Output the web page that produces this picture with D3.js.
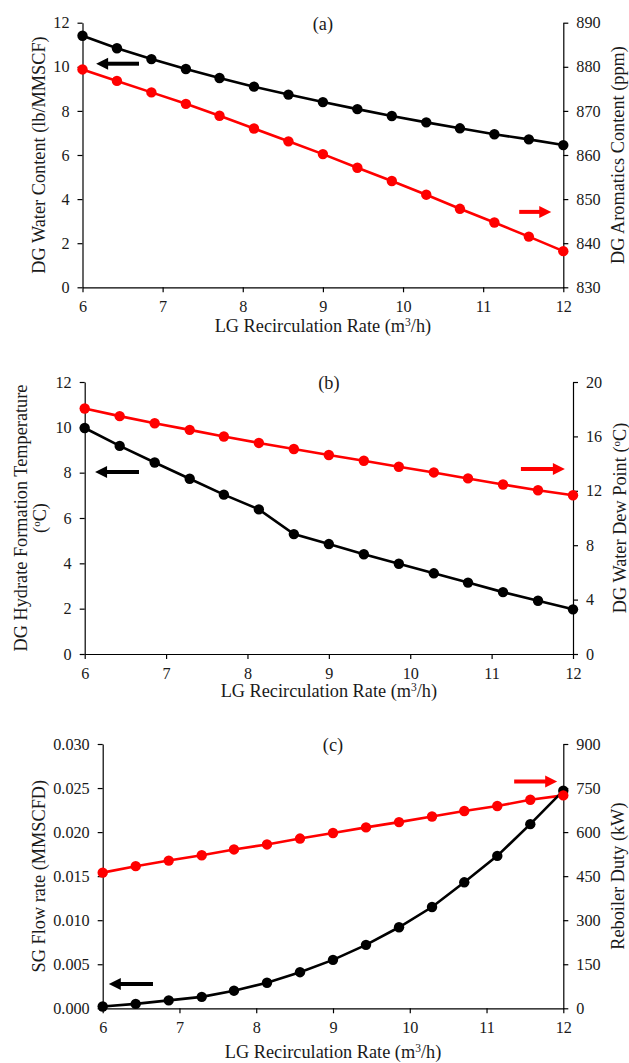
<!DOCTYPE html>
<html><head><meta charset="utf-8">
<script src="https://cdn.jsdelivr.net/npm/d3@7"></script>
<style>
body{margin:0;background:#fff;}
svg{display:block;font-family:"Liberation Serif","Times New Roman",serif;}
.tick text{font-size:16.2px;fill:#1a1a1a;}
.tick line,.domain{stroke:#000;stroke-width:1.2;}
</style></head>
<body>
<svg id="c" width="629" height="1063"></svg>
<script>
// shared x values (LG recirculation rate, m3/h)
const lgRate = [6,6.43,6.86,7.29,7.71,8.14,8.57,9,9.43,9.86,10.29,10.71,11.14,11.57,12];
const xTicks = [6,7,8,9,10,11,12];

// (a)
const waterContent = [11.41,10.84,10.35,9.90,9.49,9.10,8.74,8.40,8.08,7.77,7.48,7.21,6.94,6.71,6.45];
const aromatics = [879.4,876.8,874.2,871.6,868.9,866.0,863.1,860.2,857.1,854.1,851.0,847.8,844.7,841.5,838.2];
const aLeftTicks = [0,2,4,6,8,10,12];
const aRightTicks = [830,840,850,860,870,880,890];

// (b)
const hydrateTemp = [9.97,9.18,8.45,7.73,7.03,6.38,5.29,4.85,4.40,3.98,3.56,3.15,2.73,2.35,1.97];
const dewPoint = [18.05,17.49,16.97,16.48,15.99,15.52,15.07,14.63,14.21,13.77,13.35,12.91,12.46,12.04,11.67];
const bLeftTicks = [0,2,4,6,8,10,12];
const bRightTicks = [0,4,8,12,16,20];

// (c)
const sgFlow = [0.0002,0.0005,0.0009,0.0013,0.0020,0.0029,0.0041,0.0055,0.0072,0.0092,0.0115,0.0143,0.0173,0.0209,0.0247];
const reboilerDuty = [462,484,503,521,541,558,578,597,616,634,653,672,689,710,725];
const cLeftTicks = [0,0.005,0.010,0.015,0.020,0.025,0.030];
const cRightTicks = [0,150,300,450,600,750,900];

const svg = d3.select("#c");
const TF = "18.3px";

const panels = [
  {label:"(a)", x0:82.5, x1:563.3, y0:22.7, y1:287.3, xtOff:45,
   left:waterContent, right:aromatics, lDom:[0,12], rDom:[830,890],
   lTicks:aLeftTicks, rTicks:aRightTicks, lFmt:d3.format("d"), rFmt:d3.format("d"),
   lTitle:["DG Water Content (lb/MMSCF)"], lTitleX:[45], rTitle:"DG Aromatics Content (ppm)", rTitleX:624,
   arrows:[{side:"l", from:6.705, to:6.17, y:10.14, color:"#000"},
           {side:"r", from:11.45, to:11.85, y:847.1, color:"#ff0000"}]},
  {label:"(b)", x0:84.7, x1:573, y0:382, y1:654, xtOff:43,
   left:hydrateTemp, right:dewPoint, lDom:[0,12], rDom:[0,20],
   lTicks:bLeftTicks, rTicks:bRightTicks, lFmt:d3.format("d"), rFmt:d3.format("d"),
   lTitle:["DG Hydrate Formation Temperature","(oC)"], lTitleX:[27,46], rTitle:"DG Water Dew Point (oC)", rTitleX:626,
   arrows:[{side:"l", from:6.667, to:6.127, y:8.03, color:"#000"},
           {side:"r", from:11.36, to:11.90, y:13.6, color:"#ff0000"}]},
  {label:"(c)", x0:102.7, x1:563.3, y0:744, y1:1008.3, xtOff:50,
   left:sgFlow, right:reboilerDuty, lDom:[0,0.030], rDom:[0,900],
   lTicks:cLeftTicks, rTicks:cRightTicks, lFmt:d3.format(".3f"), rFmt:d3.format("d"),
   lTitle:["SG Flow rate (MMSCFD)"], lTitleX:[45], rTitle:"Reboiler Duty (kW)", rTitleX:624,
   arrows:[{side:"l", from:6.655, to:6.08, y:0.00276, color:"#000"},
           {side:"r", from:11.36, to:11.92, y:772, color:"#ff0000"}]}
];

function addTitleText(sel, str){
  const idx = str.indexOf("(oC)");
  if(idx<0){ sel.text(str); return; }
  sel.append("tspan").text(str.slice(0, idx+1));
  sel.append("tspan").attr("baseline-shift","super").attr("font-size","11px").text("o");
  sel.append("tspan").text("C)");
}

panels.forEach(p=>{
  const x = d3.scaleLinear().domain([6,12]).range([p.x0,p.x1]);
  const yl = d3.scaleLinear().domain(p.lDom).range([p.y1,p.y0]);
  const yr = d3.scaleLinear().domain(p.rDom).range([p.y1,p.y0]);
  const g = svg.append("g");

  g.append("g").attr("transform",`translate(0,${p.y1})`)
    .call(d3.axisBottom(x).tickValues(xTicks).tickSize(5).tickPadding(8).tickSizeOuter(0).tickFormat(d3.format("d")));
  g.append("g").attr("transform",`translate(${p.x0},0)`)
    .call(d3.axisLeft(yl).tickValues(p.lTicks).tickSize(5).tickPadding(8).tickSizeOuter(0).tickFormat(p.lFmt));
  g.append("g").attr("transform",`translate(${p.x1},0)`)
    .call(d3.axisRight(yr).tickValues(p.rTicks).tickSize(5).tickPadding(8).tickSizeOuter(0).tickFormat(p.rFmt));
  g.selectAll(".tick text").attr("font-family","Liberation Serif");

  const series = [
    {vals:p.right, y:yr, color:"#ff0000"},
    {vals:p.left, y:yl, color:"#000"}
  ];
  series.forEach(s=>{
    const line = d3.line().x((d,i)=>x(lgRate[i])).y(d=>s.y(d));
    g.append("path").datum(s.vals).attr("d",line).attr("fill","none")
      .attr("stroke",s.color).attr("stroke-width",2.6);
  });
  const order = p.label==="(c)" ? [series[1],series[0]] : series;
  order.forEach(s=>{
    g.append("g").selectAll("circle").data(s.vals).join("circle")
      .attr("cx",(d,i)=>x(lgRate[i])).attr("cy",d=>s.y(d)).attr("r",5.2).attr("fill",s.color);
  });

  g.append("text").attr("x",(p.x0+p.x1)/2).attr("y",p.y0+7).attr("text-anchor","middle")
    .attr("font-size",TF).attr("fill","#1a1a1a").text(p.label);

  const xt = g.append("text").attr("x",(p.x0+p.x1)/2).attr("y",p.y1+p.xtOff).attr("text-anchor","middle")
    .attr("font-size",TF).attr("fill","#1a1a1a");
  xt.append("tspan").text("LG Recirculation Rate (m");
  xt.append("tspan").attr("baseline-shift","super").attr("font-size","11.5px").text("3");
  xt.append("tspan").text("/h)");

  const cy = (p.y0+p.y1)/2;
  p.lTitle.forEach((t,i)=>{
    const tt = g.append("text").attr("transform",`translate(${p.lTitleX[i]},${cy}) rotate(-90)`)
      .attr("text-anchor","middle").attr("font-size",TF).attr("fill","#1a1a1a");
    addTitleText(tt,t);
  });
  const rt = g.append("text").attr("transform",`translate(${p.rTitleX},${cy}) rotate(-90)`)
    .attr("text-anchor","middle").attr("font-size",TF).attr("fill","#1a1a1a");
  addTitleText(rt,p.rTitle);

  p.arrows.forEach(a=>{
    const ys = a.side==="l" ? yl : yr;
    const xf = x(a.from), xtp = x(a.to), yy = ys(a.y);
    const dir = Math.sign(xtp-xf);
    const headLen = 12, headHalf = 6;
    g.append("line").attr("x1",xf).attr("y1",yy).attr("x2",xtp-dir*headLen+dir*1).attr("y2",yy)
      .attr("stroke",a.color).attr("stroke-width",4);
    g.append("path").attr("d",`M${xtp},${yy} L${xtp-dir*headLen},${yy-headHalf} L${xtp-dir*headLen},${yy+headHalf} Z`)
      .attr("fill",a.color);
  });
});
</script>
</body></html>
